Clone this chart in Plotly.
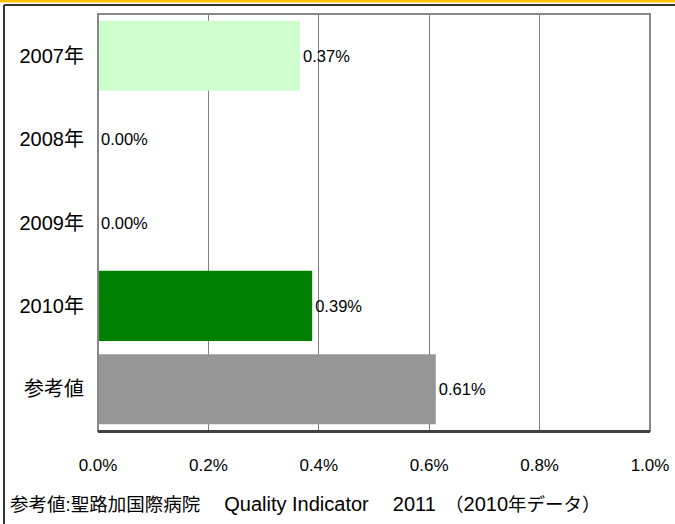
import plotly.graph_objects as go

# data
categories = ["2007年", "2008年", "2009年", "2010年", "参考値"]
rates = [0.366, 0.0, 0.0, 0.388, 0.612]
bar_colors = ["#CCFFCC", "#CCFFCC", "#CCFFCC", "#008000", "#969696"]
tick_vals = [0.0, 0.2, 0.4, 0.6, 0.8, 1.0]
source_name = "参考値:聖路加国際病院"
source_title = "Quality Indicator"
source_year = "2011"
data_year = "2010"

FONT = "Liberation Sans, Noto Sans CJK JP, sans-serif"

# plot area in pixels, used to place the decorative frame lines
L, R, T, B = 98, 650, 14, 431
W, H = 675, 524


def px(x):
    return (x - L) / (R - L)


def py(y):
    return (B - y) / (B - T)


def cjk(s):
    # CJK glyphs are set a bit smaller than the latin ones, as in the original
    return f'<span style="font-size:18.5px">{s}</span>'


footnote = (cjk(source_name + "　") + " " + source_title + cjk("　") + " " + source_year
            + cjk("　（") + data_year + cjk("年データ）"))

fig = go.Figure()
fig.add_trace(go.Bar(
    y=categories,
    x=rates,
    orientation="h",
    marker=dict(color=bar_colors, line=dict(width=0)),
    text=[f"{v:.2f}%" for v in rates],
    textposition="outside",
    textfont=dict(family=FONT, size=16.5, color="#000000"),
    cliponaxis=False,
    hoverinfo="skip",
))

fig.update_layout(
    width=W, height=H,
    margin=dict(l=L, r=W - R, t=T, b=H - B),
    paper_bgcolor="white",
    plot_bgcolor="white",
    showlegend=False,
    bargap=0.16,
    font=dict(family=FONT, size=16, color="#000000"),
    xaxis=dict(
        range=[0, 1.0],
        tickvals=tick_vals,
        ticktext=[f"{v:.1f}%" for v in tick_vals],
        showgrid=True, gridcolor="#808080", gridwidth=1,
        zeroline=False,
        showline=True, linecolor="#404040", linewidth=2,
        ticks="", ticklabelstandoff=18,
        tickfont=dict(family=FONT, size=17),
        automargin=False,
        fixedrange=True,
    ),
    yaxis=dict(
        autorange="reversed",
        showgrid=False, zeroline=False,
        ticks="", ticklabelstandoff=13,
        tickfont=dict(family=FONT, size=20),
        automargin=False,
        fixedrange=True,
    ),
    shapes=[
        # gray plot frame
        dict(type="rect", xref="paper", yref="paper", x0=0, x1=1, y0=0, y1=1,
             line=dict(color="#888888", width=2), layer="above"),
        # dark bottom axis
        dict(type="line", xref="paper", yref="paper", x0=0, x1=1, y0=0, y1=0,
             line=dict(color="#404040", width=2), layer="above"),
        # orange band at top
        dict(type="rect", xref="paper", yref="paper", x0=px(0), x1=px(W),
             y0=py(2.5), y1=py(0), fillcolor="#FFC000", line=dict(width=0)),
        # outer black box (top and left edges)
        dict(type="line", xref="paper", yref="paper", x0=px(4), x1=px(W),
             y0=py(5), y1=py(5), line=dict(color="#333333", width=2)),
        dict(type="line", xref="paper", yref="paper", x0=px(4), x1=px(4),
             y0=py(5), y1=py(H), line=dict(color="#333333", width=2)),
    ],
    annotations=[dict(
        text=footnote,
        xref="paper", yref="paper",
        x=px(8), y=py(504),
        xanchor="left", yanchor="middle",
        showarrow=False,
        font=dict(family=FONT, size=20, color="#000000"),
    )],
)

fig.write_html("out.html", config={"displayModeBar": False},
               post_script="document.body.style.margin='0';")
